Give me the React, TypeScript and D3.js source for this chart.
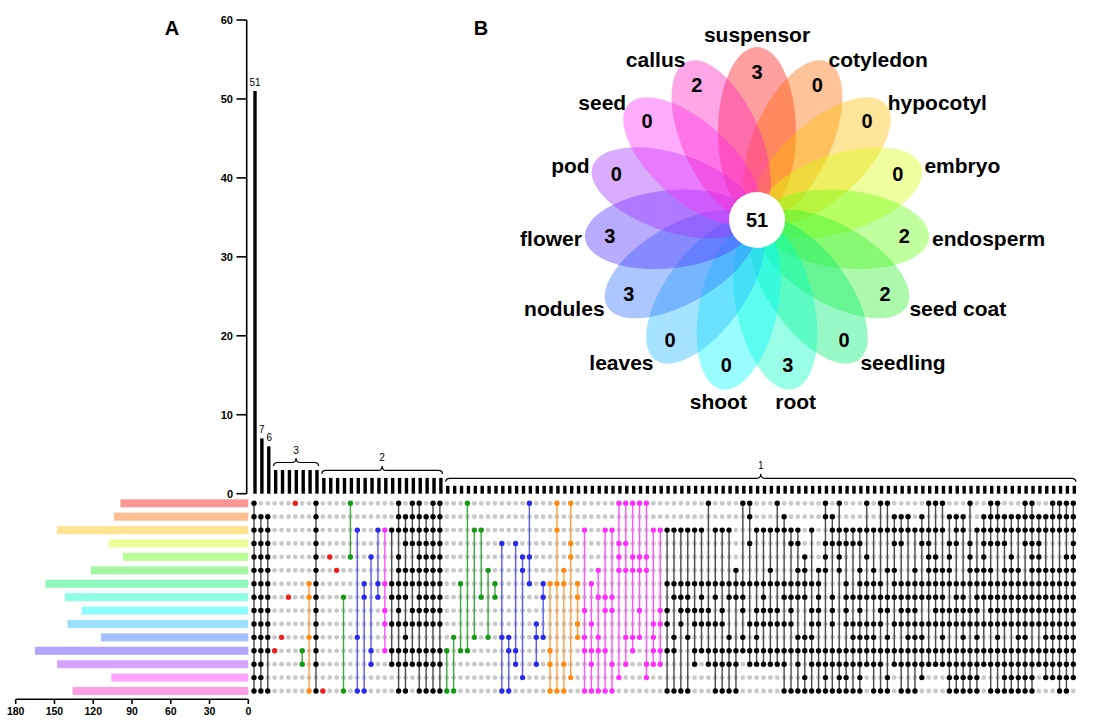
import React from "react";
import * as d3 from "d3";

// ---------------- data ----------------
const setNames = ["suspensor","cotyledon","hypocotyl","embryo","endosperm","seed coat","seedling","root","shoot","leaves","nodules","flower","pod","seed","callus"];
const setSizes = [99,104,148,108,97,122,157,142,129,140,114,165,148,106,136];
const setColors = ["#ff1010","#ff6a00","#ffbf00","#d8ff10","#66ff10","#30f030","#00f070","#00ffc0","#00f8ff","#20b8ff","#3070ff","#5030ff","#a030ff","#ff30ff","#ff20c0"];
const uniqueCounts = [3,0,0,0,2,2,0,3,0,0,3,3,0,0,2];
const coreCount = 51;

// intersection bar heights, as groups [value, number of bars]
const sizeGroups: [number, number][] = [[51,1],[7,1],[6,1],[3,7],[2,18],[1,92]];
const labelledBars = [51,7,6];
const bracedGroups = [3,2,1];

// membership: for each set (row), the intersection columns that include it
const rowMembers: number[][] = [
  [0,6,9,14,21,23,24,26,27,31,40,44,46,53,54,55,56,57,66,71,72,76,83,85,89,91,92,98,99,100,104,107,108,112,113,116,117,118,119],
  [0,1,2,9,21,22,23,24,25,26,27,72,77,83,84,93,94,95,97,101,102,103,106,107,108,109,110,111,112,113,114,115,116,117,118,119],
  [0,1,2,9,15,18,19,20,21,22,23,24,25,26,27,32,33,44,48,51,52,58,59,60,61,62,63,64,65,67,68,69,73,74,75,76,77,78,79,81,84,85,86,87,88,89,90,91,92,93,94,95,96,97,98,99,100,102,103,105,106,107,108,109,110,111,112,113,114,115,116,117,118,119],
  [0,1,2,9,22,23,24,25,26,27,36,38,46,53,54,72,78,79,83,84,85,86,87,88,93,94,97,98,101,102,104,106,107,108,109,112,113,114,119],
  [0,1,2,9,11,14,17,21,24,25,26,27,39,40,46,53,55,56,57,80,83,85,89,98,99,101,104,106,110,113,114,118,119],
  [0,1,2,9,12,21,22,23,24,25,26,27,34,39,45,50,53,54,55,56,57,70,75,79,80,82,83,85,88,90,92,93,96,98,99,100,101,104,105,106,107,109,110,111,113,114,115,116,117,118,119],
  [0,1,2,8,9,16,18,19,20,21,22,23,24,25,26,27,30,35,40,42,43,44,45,47,49,60,61,62,63,64,65,66,67,68,69,70,71,72,73,74,75,76,77,78,79,80,81,82,86,88,89,90,91,93,94,95,96,97,98,99,100,101,102,103,104,105,106,107,108,109,110,111,112,113,114,115,116,117,118,119],
  [0,1,2,5,8,9,13,16,18,20,21,22,24,25,26,27,33,35,42,47,50,51,52,61,62,63,65,67,69,70,71,74,77,78,79,80,82,84,86,87,88,89,90,91,92,93,94,95,96,97,98,99,100,102,103,105,106,107,108,109,110,111,112,113,114,115,116,117,118,119],
  [0,1,2,9,19,21,23,24,25,26,27,48,51,52,56,59,60,62,63,64,65,66,68,71,73,74,75,76,78,81,82,84,86,88,91,92,94,95,96,99,100,101,102,103,104,105,107,108,109,110,111,112,113,114,115,116,117,118,119],
  [0,1,2,9,19,20,21,22,23,24,25,26,27,41,47,49,58,59,60,62,64,65,66,67,68,72,73,74,75,76,77,78,81,82,84,86,87,88,89,90,91,93,94,95,96,97,98,99,100,101,102,103,104,105,106,107,108,109,110,111,112,113,114,115,116,117,118,119],
  [0,1,2,4,8,9,15,22,29,32,34,36,37,41,42,47,48,50,54,55,56,58,61,63,69,71,73,79,80,81,87,88,89,90,92,95,96,97,100,103,105,108,111,112,115,116,117,118,119],
  [0,1,2,3,7,9,17,19,20,21,22,23,24,25,26,27,28,30,31,37,38,43,48,49,50,51,55,58,59,60,61,64,65,66,67,68,69,70,71,72,73,74,75,76,77,78,79,80,81,82,83,84,85,86,87,88,89,90,91,92,93,94,95,96,97,98,99,100,101,102,103,104,105,106,107,108,109,110,111,112,113,114,115,116,117,118,119],
  [0,1,7,9,17,20,21,22,23,24,25,26,27,38,41,43,45,49,52,54,57,58,59,64,66,67,68,69,70,72,73,74,75,76,77,79,81,82,83,84,85,86,87,88,89,90,91,93,94,95,96,97,98,99,100,101,102,103,104,105,106,107,108,109,110,111,112,113,114,115,116,117,118,119],
  [0,1,39,46,53,57,80,83,85,86,88,92,97,101,102,103,104,105,109,110,111,112,113,115,116,117,118,119],
  [0,1,2,8,9,10,13,15,16,21,22,24,25,26,27,28,29,36,37,43,44,45,48,49,50,51,52,60,61,62,63,67,68,69,70,77,78,79,80,81,82,83,84,85,86,87,88,90,91,92,94,95,96,101,102,103,104,105,107,108,109,110,111,112,113,117,118],
];

const topTicks = [0,10,20,30,40,50,60];
const leftTicks = [180,150,120,90,60,30,0];

// ---------------- derived ----------------
const barValues: number[] = [];
sizeGroups.forEach(([v, n]) => { for (let k = 0; k < n; k++) barValues.push(v); });
const nCols = barValues.length;
const colRows: number[][] = barValues.map(() => []);
rowMembers.forEach((cols, r) => cols.forEach((c) => { if (c < nCols) colRows[c].push(r); }));

const degreeColor = (deg: number) =>
  deg === 1 ? "#ee1c1c" : deg === 2 ? "#159a15" : deg === 3 ? "#2a2aee" : deg === 4 ? "#ff8a12" : deg === 5 ? "#ff2eff" : "#000";
const degreeLine = (deg: number) =>
  deg === 2 ? "#3ea83e" : deg === 3 ? "#5a5af0" : deg === 4 ? "#ffa040" : deg === 5 ? "#ff55ff" : "#4a4a4a";

const FONT = "'Liberation Sans', Arial, Helvetica, sans-serif";

function bracePath(x1: number, x2: number, y: number) {
  const m = (x1 + x2) / 2;
  return `M${x1},${y + 3.5} Q${x1},${y} ${x1 + 4},${y} L${m - 4},${y} Q${m},${y} ${m},${y - 4.5} Q${m},${y} ${m + 4},${y} L${x2 - 4},${y} Q${x2},${y} ${x2},${y + 3.5}`;
}

export default function App() {
  const x = d3.scalePoint<number>().domain(d3.range(nCols)).range([254, 1073.3]);
  const yRow = d3.scalePoint<number>().domain(d3.range(15)).range([503.3, 691]);
  const yBar = d3.scaleLinear().domain([0, 60]).range([493.7, 20]);
  const xLeft = d3.scaleLinear().domain([0, 180]).range([248.3, 15.7]);

  // flower
  const cx = 757, cy = 220;
  const angleOf = (i: number) => -90 + (360 / setNames.length) * i;
  const rad = (a: number) => (a * Math.PI) / 180;
  const petalDist = 88, petalRx = 85, petalRy = 39;

  let start = 0;
  const groups = sizeGroups.map(([v, n]) => { const g = { v, a: start, b: start + n - 1 }; start += n; return g; });

  return (
    <svg width={1096} height={722} style={{ position: "absolute", left: 0, top: 0, background: "#fff" }} fontFamily={FONT}>
      <rect width={1096} height={722} fill="#fff" />
      <text x={172} y={35} fontSize={20} fontWeight="bold" textAnchor="middle">A</text>
      <text x={481} y={35} fontSize={20} fontWeight="bold" textAnchor="middle">B</text>

      {/* top bar chart axis */}
      <line x1={246.7} x2={246.7} y1={yBar(60)} y2={yBar(0)} stroke="#000" strokeWidth={1.6} />
      {topTicks.map((t) => (
        <g key={t}>
          <line x1={236.5} x2={246.7} y1={yBar(t)} y2={yBar(t)} stroke="#000" strokeWidth={1.6} />
          <text x={233} y={yBar(t)} dy="0.35em" fontSize={11} fontWeight="bold" textAnchor="end">{t}</text>
        </g>
      ))}
      {barValues.map((v, i) => (
        <rect key={i} x={x(i)! - 0.7} width={3.4} y={yBar(v)} height={yBar(0) - yBar(v)} fill="#000" />
      ))}
      {labelledBars.map((v, i) => (
        <text key={i} x={x(i)! + 1 + (i === 2 ? 0.5 : 0)} y={yBar(v) - 9} dy="0.35em" fontSize={10} textAnchor="middle">{v}</text>
      ))}
      {groups.filter((g) => bracedGroups.includes(g.v)).map((g) => {
        const top = yBar(g.v);
        const x1 = x(g.a)! - 1, x2 = x(g.b)! + 2.5;
        return (
          <g key={g.v}>
            <path d={bracePath(x1, x2, top - 7.5)} fill="none" stroke="#000" strokeWidth={1.2} />
            <text x={(x1 + x2) / 2} y={top - 20} dy="0.35em" fontSize={10} textAnchor="middle">{g.v}</text>
          </g>
        );
      })}

      {/* left set-size bars */}
      {setSizes.map((s, r) => (
        <rect key={r} x={xLeft(s)} width={xLeft(0) - xLeft(s)} y={yRow(r)! - 4} height={8} fill={setColors[r]} fillOpacity={0.44} />
      ))}
      <line x1={xLeft(180)} x2={xLeft(0)} y1={699.3} y2={699.3} stroke="#000" strokeWidth={1.6} />
      {leftTicks.map((t) => (
        <g key={t}>
          <line x1={xLeft(t)} x2={xLeft(t)} y1={699.3} y2={704} stroke="#000" strokeWidth={1.6} />
          <text x={xLeft(t)} y={711} dy="0.35em" fontSize={10.5} fontWeight="bold" textAnchor="middle">{t}</text>
        </g>
      ))}

      {/* matrix */}
      {d3.range(15).map((r) => (
        <g key={r}>
          {d3.range(nCols).map((c) => (
            <circle key={c} cx={x(c)} cy={yRow(r)} r={2.4} fill="#c9c9c9" />
          ))}
        </g>
      ))}
      {colRows.map((rows, c) => {
        if (!rows.length) return null;
        const deg = rows.length;
        const lo = d3.min(rows)!, hi = d3.max(rows)!;
        return (
          <g key={c}>
            {lo !== hi && (
              <line x1={x(c)} x2={x(c)} y1={yRow(lo)} y2={yRow(hi)} stroke={degreeLine(deg)} strokeWidth={1.4} />
            )}
            {rows.map((r) => (
              <circle key={r} cx={x(c)} cy={yRow(r)} r={2.7} fill={degreeColor(deg)} />
            ))}
          </g>
        );
      })}

      {/* flower venn */}
      <g>
        {setNames.map((n, i) => {
          const a = angleOf(i);
          const ex = cx + petalDist * Math.cos(rad(a));
          const ey = cy + petalDist * Math.sin(rad(a));
          return (
            <ellipse key={n} cx={ex} cy={ey} rx={petalRx} ry={petalRy} transform={`rotate(${a},${ex},${ey})`} fill={setColors[i]} fillOpacity={0.4} />
          );
        })}
        {setNames.map((n, i) => {
          const a = angleOf(i);
          const nx = cx + 148 * Math.cos(rad(a));
          const ny = cy + 148 * Math.sin(rad(a));
          const c = Math.cos(rad(a));
          const anchor = c > 0.3 ? "start" : c < -0.3 ? "end" : "middle";
          const lr = anchor === "middle" ? 186 : 176;
          const lx = cx + lr * c;
          const ly = cy + lr * Math.sin(rad(a));
          return (
            <g key={n}>
              <text x={nx} y={ny} dy="0.36em" fontSize={20} fontWeight="bold" textAnchor="middle">{uniqueCounts[i]}</text>
              <text x={lx} y={ly} dy="0.36em" fontSize={21} fontWeight="bold" textAnchor={anchor}>{n}</text>
            </g>
          );
        })}
        <circle cx={cx} cy={cy} r={28} fill="#fff" />
        <text x={cx} y={cy} dy="0.36em" fontSize={20} fontWeight="bold" textAnchor="middle">{coreCount}</text>
      </g>
    </svg>
  );
}
